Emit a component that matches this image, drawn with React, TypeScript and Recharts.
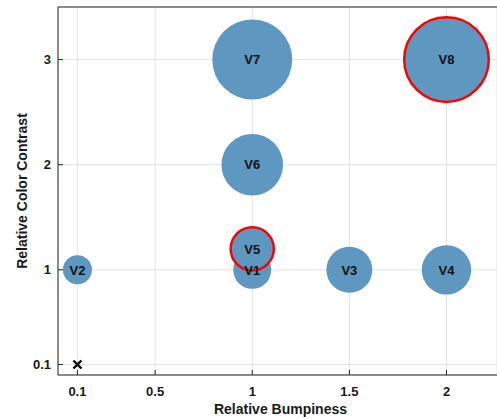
import React from 'react';
import { ScatterChart, Scatter, XAxis, YAxis, ZAxis, CartesianGrid } from 'recharts';

const names = ['V1', 'V2', 'V3', 'V4', 'V5', 'V6', 'V7', 'V8'];
const bumpiness = [1, 0.1, 1.5, 2, 1, 1, 1, 2];
const contrast = [1, 1, 1, 1, 1.2, 2, 3, 3];
const bubbleSize = [3.61, 2.1, 5.29, 6.1, 4.67, 9.5, 16, 17.9];
const highlighted = ['V5', 'V8'];
const xTicks = [0.1, 0.5, 1, 1.5, 2];
const yTicks = [0.1, 1, 2, 3];
const markerX = [0.1];
const markerY = [0.1];

const points = names.map((n, i) => ({ name: n, x: bumpiness[i], y: contrast[i], z: bubbleSize[i] }));
const normalPts = points.filter((p) => !highlighted.includes(p.name));
const highPts = points.filter((p) => highlighted.includes(p.name));
const markerPts = markerX.map((x, i) => ({ x, y: markerY[i], z: 1 }));

const FONT = "'Liberation Sans', Arial, Helvetica, sans-serif";
const BLUE = '#5e97bf';
const AXIS = '#262626';

const XTick = (props: any) => {
  const { x, y, payload } = props;
  return (
    <g>
      <line x1={x} y1={y} x2={x} y2={y - 5} stroke={AXIS} strokeWidth={1} />
      <text x={x} y={y + 20.5} textAnchor="middle" fontFamily={FONT} fontWeight="bold" fontSize={13} fill="#1a1a1a">
        {payload.value}
      </text>
    </g>
  );
};

const TopTick = (props: any) => {
  const { x, y } = props;
  return <line x1={x} y1={y} x2={x} y2={y + 5} stroke={AXIS} strokeWidth={1} />;
};

const YTick = (props: any) => {
  const { x, y, payload } = props;
  return (
    <g>
      <line x1={x} y1={y} x2={x + 5} y2={y} stroke={AXIS} strokeWidth={1} />
      <text x={x - 7} y={y + 4.6} textAnchor="end" fontFamily={FONT} fontWeight="bold" fontSize={13} fill="#1a1a1a">
        {payload.value}
      </text>
    </g>
  );
};

const radiusOf = (p: any) => Math.sqrt(Math.max(p.size || 0, 0) / Math.PI);

const Bubble = (p: any) => <circle cx={p.cx} cy={p.cy} r={radiusOf(p)} fill={BLUE} />;
const RedBubble = (p: any) => (
  <circle cx={p.cx} cy={p.cy} r={radiusOf(p)} fill={BLUE} stroke="#ff0000" strokeWidth={2.5} />
);
const LabelShape = (p: any) => (
  <text
    x={p.cx}
    y={p.cy + 4.7}
    textAnchor="middle"
    fontFamily={FONT}
    fontWeight="bold"
    fontSize={13}
    fill="#111"
  >
    {p.payload.name}
  </text>
);
const Cross = (p: any) => {
  const s = 4;
  return (
    <g stroke="#000" strokeWidth={2.4}>
      <line x1={p.cx - s} y1={p.cy - s} x2={p.cx + s} y2={p.cy + s} />
      <line x1={p.cx - s} y1={p.cy + s} x2={p.cx + s} y2={p.cy - s} />
    </g>
  );
};

const XTitle = (props: any) => {
  const vb = props.viewBox;
  return (
    <text
      x={vb.x + vb.width / 2 + 3}
      y={vb.y + 39}
      textAnchor="middle"
      fontFamily={FONT}
      fontWeight="bold"
      fontSize={14}
      fill="#1a1a1a"
    >
      Relative Bumpiness
    </text>
  );
};

const YTitle = (props: any) => {
  const vb = props.viewBox;
  const cx = vb.x + 26.5;
  const cy = vb.y + vb.height / 2;
  return (
    <text
      x={cx}
      y={cy}
      transform={`rotate(-90 ${cx} ${cy})`}
      textAnchor="middle"
      fontFamily={FONT}
      fontWeight="bold"
      fontSize={14}
      fill="#1a1a1a"
    >
      Relative Color Contrast
    </text>
  );
};

export default function App() {
  return (
    <div style={{ position: 'absolute', left: 0, top: 0, width: 497, height: 419, background: '#fff' }}>
      <ScatterChart width={497} height={419} margin={{ top: 6, right: 0, bottom: 0, left: 0 }}>
        <CartesianGrid stroke="#e3e3e3" strokeWidth={1} />
        <XAxis
          dataKey="x"
          type="number"
          domain={[0, 2.26]}
          ticks={xTicks}
          allowDataOverflow
          height={44}
          tickSize={0}
          tickMargin={0}
          tickLine={false}
          axisLine={{ stroke: AXIS, strokeWidth: 1 }}
          tick={<XTick />}
          interval={0}
          label={<XTitle />}
        />
        <XAxis
          xAxisId="top"
          orientation="top"
          type="number"
          domain={[0, 2.26]}
          ticks={xTicks}
          allowDataOverflow
          height={1}
          tickSize={0}
          tickMargin={0}
          tickLine={false}
          axisLine={{ stroke: AXIS, strokeWidth: 1 }}
          tick={<TopTick />}
          interval={0}
        />
        <YAxis
          dataKey="y"
          type="number"
          domain={[0, 3.5]}
          ticks={yTicks}
          allowDataOverflow
          width={58}
          tickSize={0}
          tickMargin={0}
          tickLine={false}
          axisLine={{ stroke: AXIS, strokeWidth: 1 }}
          tick={<YTick />}
          interval={0}
          label={<YTitle />}
        />
        <ZAxis dataKey="z" type="number" domain={[0, 20]} range={[0, 100 * Math.PI * 20]} />
        <Scatter data={normalPts} shape={<Bubble />} isAnimationActive={false} />
        <Scatter data={highPts} shape={<RedBubble />} isAnimationActive={false} />
        <Scatter data={points} shape={<LabelShape />} isAnimationActive={false} />
        <Scatter data={markerPts} shape={<Cross />} isAnimationActive={false} />
      </ScatterChart>
    </div>
  );
}
